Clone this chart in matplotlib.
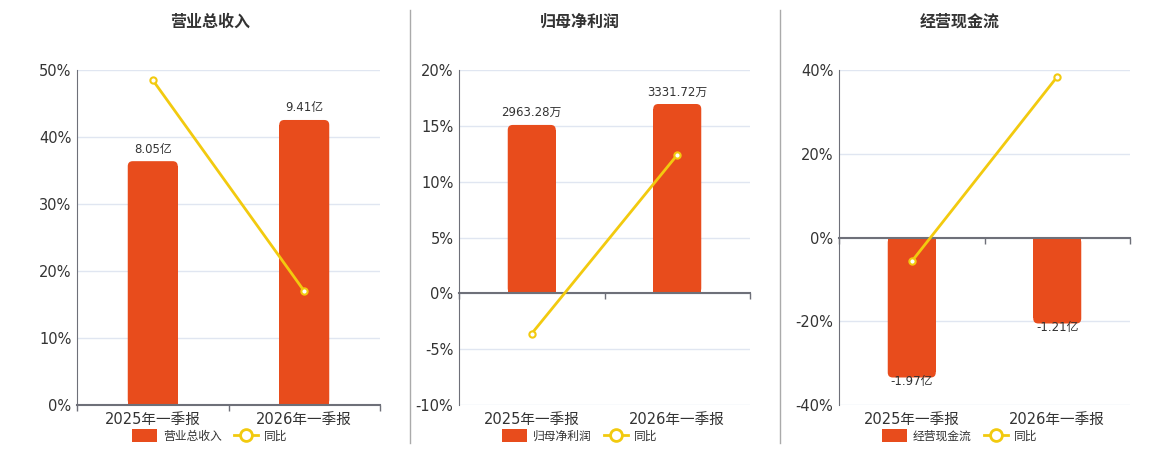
import matplotlib
matplotlib.use('Agg')
import matplotlib.pyplot as plt
from matplotlib.patches import FancyBboxPatch, Patch
from matplotlib.lines import Line2D
from matplotlib.ticker import FuncFormatter, MultipleLocator

plt.rcParams['font.family'] = ['DejaVu Sans', 'Noto Sans CJK SC']

# 数据
periods = ['2025年一季报', '2026年一季报']

revenue_title = '营业总收入'
revenue = [8.05, 9.41]          # 亿
revenue_labels = ['8.05亿', '9.41亿']
revenue_yoy = [48.5, 17.0]      # %

profit_title = '归母净利润'
profit = [2963.28, 3331.72]     # 万
profit_labels = ['2963.28万', '3331.72万']
profit_yoy = [-3.6, 12.4]

cash_title = '经营现金流'
cashflow = [-1.97, -1.21]       # 亿
cashflow_labels = ['-1.97亿', '-1.21亿']
cashflow_yoy = [-5.7, 38.4]

BAR = '#E84C1C'
LINE = '#F2CA0F'
GRID = '#E0E6F1'
AXIS = '#6E7079'
TEXT = '#333333'

W, H = 1160, 450
fig = plt.figure(figsize=(W / 100, H / 100), dpi=100)


def draw_panel(left, width, center, title, values, labels, yoy, pct_lim, pct_step, bar_lim):
    ax = fig.add_axes([left / W, 1 - 405 / H, width / W, 335 / H])
    x = list(range(len(periods)))
    ax.set_xlim(-0.5, len(periods) - 0.5)
    ax.set_ylim(*pct_lim)
    ax.yaxis.set_major_locator(MultipleLocator(pct_step))
    ax.yaxis.set_major_formatter(FuncFormatter(lambda v, p: f'{int(round(v))}%'))
    ax.grid(axis='y', color=GRID, lw=1)
    ax.set_axisbelow(True)
    for s in ['top', 'right', 'bottom']:
        ax.spines[s].set_visible(False)
    ax.spines['left'].set_color(AXIS)
    ax.tick_params(axis='y', length=0, labelsize=10.5, colors=TEXT, pad=4)
    ax.set_xticks(x)
    ax.set_xticklabels(periods)
    ax.tick_params(axis='x', length=0, labelsize=10.5, colors=TEXT, pad=5)

    # 柱子 (隐藏的第二个坐标轴)
    axb = ax.twinx()
    axb.set_ylim(*bar_lim)
    axb.axis('off')
    bars = axb.bar(x, values, width=0.33, color=BAR)

    p0 = axb.transData.transform((0, 0))
    p1 = axb.transData.transform((1, 1))
    px_x, px_y = p1[0] - p0[0], p1[1] - p0[1]
    r_px = 5
    r_x = r_px / px_x
    r_y = r_px / px_y
    for rect, v in zip(bars, values):
        x0, w, h = rect.get_x(), rect.get_width(), rect.get_height()
        if v >= 0:
            rect.set_height(h - r_y)
        else:
            rect.set_height(h + r_y)
        axb.add_patch(FancyBboxPatch((x0, min(0, v)), w, abs(v),
                                     boxstyle=f'round,pad=0,rounding_size={r_x}',
                                     mutation_aspect=px_x / px_y,
                                     fc=BAR, ec='none'))
    for xi, v, lab in zip(x, values, labels):
        if v >= 0:
            axb.annotate(lab, (xi, v), xytext=(0, 4), textcoords='offset points',
                         ha='center', va='bottom', fontsize=8.5, color=TEXT)
        else:
            axb.annotate(lab, (xi, v), xytext=(0, 2), textcoords='offset points',
                         ha='center', va='top', fontsize=8.5, color=TEXT)

    # 同比折线
    axl = ax.twinx()
    axl.set_ylim(*pct_lim)
    axl.axis('off')
    axl.axhline(0, color=AXIS, lw=1.5, clip_on=False)
    bounds = [i - 0.5 for i in range(len(periods) + 1)]
    axl.plot(bounds, [0] * len(bounds), ls='none', marker=3, ms=4,
             mec=AXIS, mew=1, clip_on=False)
    axl.plot(x, yoy, color=LINE, lw=2, marker='o', ms=4.5,
             mfc='white', mec=LINE, mew=1.5, clip_on=False)

    fig.text(center / W, 1 - 22 / H, title, ha='center', va='center',
             fontsize=11.5, fontweight='bold', color=TEXT)
    handles = [Patch(fc=BAR, ec='none', label=title),
               Line2D([], [], color=LINE, lw=2, marker='o', ms=8.5,
                      mfc='white', mec=LINE, mew=2, label='同比')]
    fig.legend(handles=handles, loc='center', bbox_to_anchor=(center / W, 1 - 436 / H),
               ncol=2, frameon=False, fontsize=8.5, handlelength=2.1,
               handleheight=1.2, columnspacing=1.0, handletextpad=0.5,
               labelcolor=TEXT)


draw_panel(77, 303, 210, revenue_title, revenue, revenue_labels, revenue_yoy,
           (0, 50), 10, (0, 11.06))
draw_panel(459, 291, 580, profit_title, profit, profit_labels, profit_yoy,
           (-10, 20), 5, (-1965, 3930))
draw_panel(839, 291, 960, cash_title, cashflow, cashflow_labels, cashflow_yoy,
           (-40, 40), 20, (-2.357, 2.357))

# 分隔线
for sx in [410, 780]:
    fig.add_artist(Line2D([sx / W, sx / W], [1 - 10 / H, 1 - 443 / H],
                          transform=fig.transFigure, color='#AAAAAA', lw=1))

fig.savefig('out.png', dpi=100)
